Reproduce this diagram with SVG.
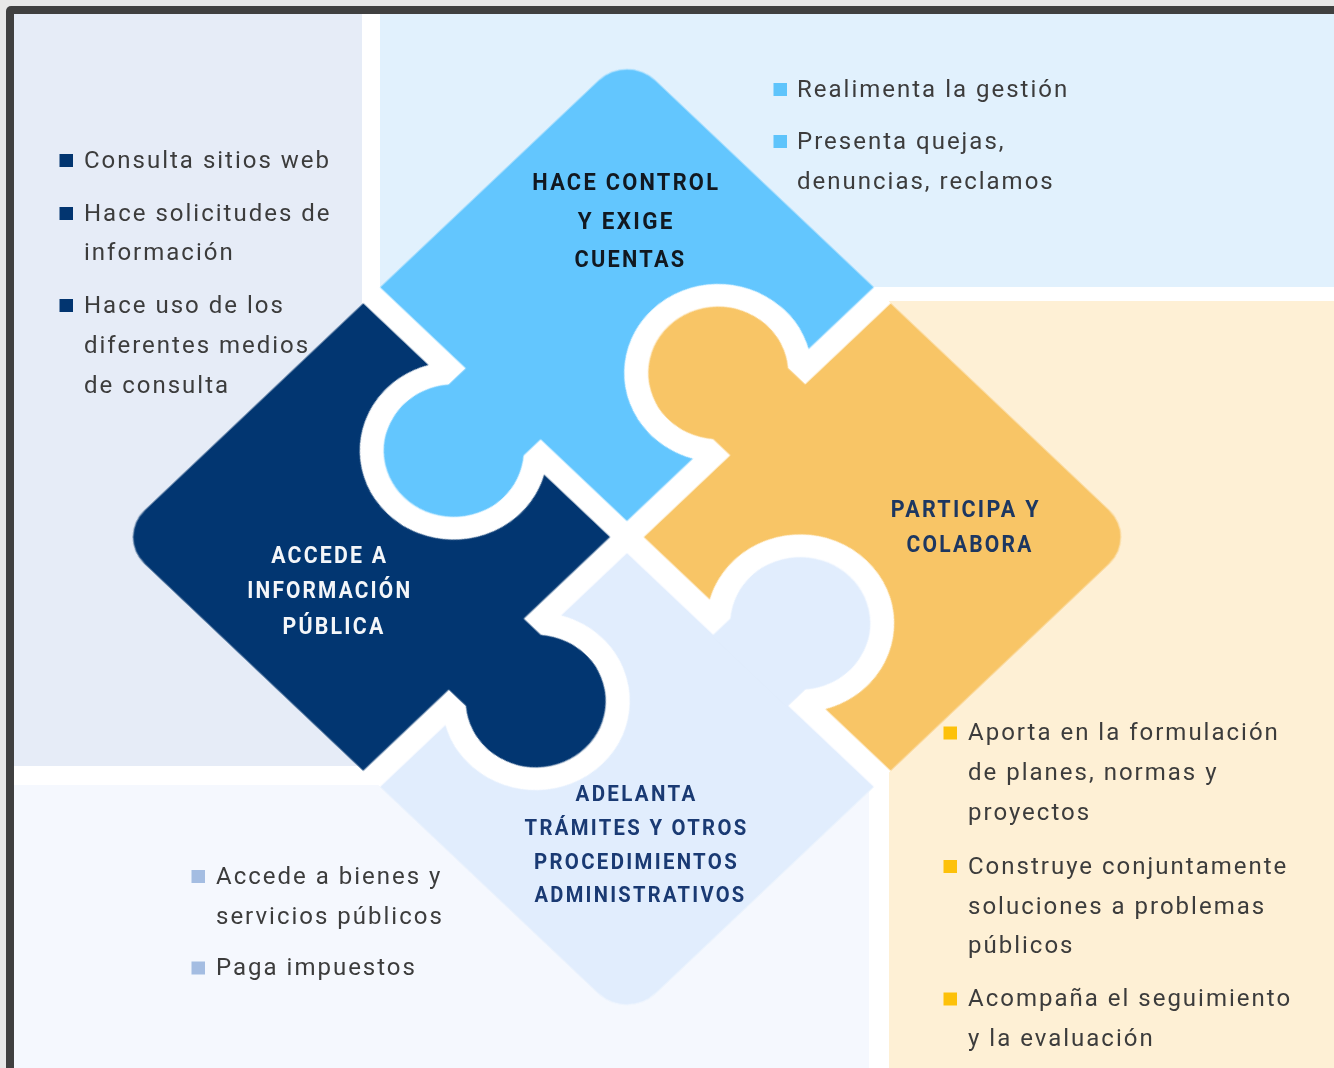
<svg xmlns="http://www.w3.org/2000/svg" xmlns:xlink="http://www.w3.org/1999/xlink" width="1334" height="1068" viewBox="0 0 1334 1068">
  <style>
    .item { font-family: Roboto, "Noto Sans", "Liberation Sans", sans-serif; font-size: 24px; letter-spacing: 2px; fill: #3c3c3c; }
    .lbl { font-family: Roboto, "Noto Sans", "Liberation Sans", sans-serif; font-weight: 700; font-size: 24px; letter-spacing: 2.5px; text-anchor: middle; }
    .lbl-sm { font-size: 22px; }
  </style>
  <defs>
    <!-- one puzzle tab: base on x=0, head circle r=70 centred 70 out -->
    <path id="tabShape" d="M -2,-53 L 24.3,-53 A 70 70 0 1 1 24.3,53 L -2,53 Z"/>
    <use id="tabBlue" xlink:href="#tabShape" transform="translate(-187,-12) rotate(90)"/>
    <use id="tabNavy" xlink:href="#tabShape" transform="translate(-12,187)"/>
    <use id="tabPale" xlink:href="#tabShape" transform="translate(187,12) rotate(-90)"/>
    <use id="tabOrange" xlink:href="#tabShape" transform="translate(12,-187) rotate(180)"/>

    <!-- each piece loses the neighbour's tab grown by the gap width -->
    <mask id="mBlue" maskUnits="userSpaceOnUse" x="-420" y="-420" width="840" height="840">
      <rect x="-420" y="-420" width="840" height="840" fill="#fff"/>
      <use xlink:href="#tabOrange" fill="#000" stroke="#000" stroke-width="48" stroke-linejoin="round"/>
    </mask>
    <mask id="mNavy" maskUnits="userSpaceOnUse" x="-420" y="-420" width="840" height="840">
      <rect x="-420" y="-420" width="840" height="840" fill="#fff"/>
      <use xlink:href="#tabBlue" fill="#000" stroke="#000" stroke-width="48" stroke-linejoin="round"/>
    </mask>
    <mask id="mPale" maskUnits="userSpaceOnUse" x="-420" y="-420" width="840" height="840">
      <rect x="-420" y="-420" width="840" height="840" fill="#fff"/>
      <use xlink:href="#tabNavy" fill="#000" stroke="#000" stroke-width="48" stroke-linejoin="round"/>
    </mask>
    <mask id="mOrange" maskUnits="userSpaceOnUse" x="-420" y="-420" width="840" height="840">
      <rect x="-420" y="-420" width="840" height="840" fill="#fff"/>
      <use xlink:href="#tabPale" fill="#000" stroke="#000" stroke-width="48" stroke-linejoin="round"/>
    </mask>
  </defs>

  <!-- frame and quadrant panels -->
  <rect width="1334" height="1068" fill="#e8e8e8"/>
  <rect x="6" y="6" width="1340" height="1080" rx="5" fill="#404040"/>
  <rect x="14" y="14" width="1330" height="1060" fill="#ffffff"/>
  <rect x="14" y="14" width="348" height="752" fill="#e6ecf7"/>
  <rect x="380" y="14" width="954" height="273" fill="#e1f1fd"/>
  <rect x="889" y="301" width="445" height="767" fill="#fef0d5"/>
  <rect x="14" y="785" width="855" height="283" fill="#f5f8fe"/>

  <!-- puzzle backing: shows white in the gaps -->
  <g transform="translate(627,537) scale(1,0.947) rotate(45)">
    <rect x="-361" y="-361" width="722" height="722" rx="40" fill="#ffffff"/>
  </g>

  <g id="node-control">
    <g transform="translate(627,537) scale(1,0.947) rotate(45)">
      <g mask="url(#mBlue)" fill="#63c6fe">
        <path d="M -12,-12 L -361,-12 L -361,-321 A 40 40 0 0 1 -321,-361 L -12,-361 Z"/>
        <use xlink:href="#tabBlue"/>
      </g>
    </g>
    <text class="lbl" fill="#111820">
      <tspan x="630.5" y="190" textLength="188" lengthAdjust="spacingAndGlyphs">HACE CONTROL</tspan>
      <tspan x="630.5" y="228.5" textLength="97" lengthAdjust="spacingAndGlyphs">Y EXIGE</tspan>
      <tspan x="630.5" y="266.5" textLength="112" lengthAdjust="spacingAndGlyphs">CUENTAS</tspan>
    </text>
  </g>

  <g id="node-acceso">
    <g transform="translate(627,537) scale(1,0.947) rotate(45)">
      <g mask="url(#mNavy)" fill="#023671">
        <path d="M -12,12 L -12,361 L -321,361 A 40 40 0 0 1 -361,321 L -361,12 Z"/>
        <use xlink:href="#tabNavy"/>
      </g>
    </g>
    <text class="lbl" fill="#f4f6f9">
      <tspan x="334" y="562.5" textLength="117" lengthAdjust="spacingAndGlyphs">ACCEDE A</tspan>
      <tspan x="334" y="597.5" textLength="165" lengthAdjust="spacingAndGlyphs">INFORMACIÓN</tspan>
      <tspan x="334" y="633.5" textLength="103" lengthAdjust="spacingAndGlyphs">PÚBLICA</tspan>
    </text>
  </g>

  <g id="node-participa">
    <g transform="translate(627,537) scale(1,0.947) rotate(45)">
      <g mask="url(#mOrange)" fill="#f8c566">
        <path d="M 12,-12 L 12,-361 L 321,-361 A 40 40 0 0 1 361,-321 L 361,-12 Z"/>
        <use xlink:href="#tabOrange"/>
      </g>
    </g>
    <text class="lbl" fill="#1d3761">
      <tspan x="970" y="517" textLength="150" lengthAdjust="spacingAndGlyphs">PARTICIPA Y</tspan>
      <tspan x="970" y="552" textLength="127" lengthAdjust="spacingAndGlyphs">COLABORA</tspan>
    </text>
  </g>

  <g id="node-tramites">
    <g transform="translate(627,537) scale(1,0.947) rotate(45)">
      <g mask="url(#mPale)" fill="#e1edfd">
        <path d="M 12,12 L 361,12 L 361,321 A 40 40 0 0 1 321,361 L 12,361 Z"/>
        <use xlink:href="#tabPale"/>
      </g>
    </g>
    <text class="lbl lbl-sm" fill="#1a3a73">
      <tspan x="640.5" y="801" textLength="122" lengthAdjust="spacingAndGlyphs">ADELANTA</tspan>
      <tspan x="640.5" y="835" textLength="224" lengthAdjust="spacingAndGlyphs">TRÁMITES Y OTROS</tspan>
      <tspan x="640.5" y="869" textLength="205" lengthAdjust="spacingAndGlyphs">PROCEDIMIENTOS</tspan>
      <tspan x="640.5" y="902" textLength="212" lengthAdjust="spacingAndGlyphs">ADMINISTRATIVOS</tspan>
    </text>
  </g>

  <!-- bullet lists -->
  <g id="list-acceso">
    <g fill="#023570">
      <rect x="59.5" y="154" width="13.5" height="13"/>
      <rect x="59.5" y="207" width="13.5" height="13"/>
      <rect x="59.5" y="299" width="13.5" height="13"/>
    </g>
    <text class="item">
      <tspan x="84" y="167.5">Consulta sitios web</tspan>
      <tspan x="84" y="220.5">Hace solicitudes de</tspan>
      <tspan x="84" y="260">información</tspan>
      <tspan x="84" y="312.5">Hace uso de los</tspan>
      <tspan x="84" y="352.5">diferentes medios</tspan>
      <tspan x="84" y="393">de consulta</tspan>
    </text>
  </g>

  <g id="list-control">
    <g fill="#5ec4fb">
      <rect x="773.5" y="83" width="13.5" height="13"/>
      <rect x="773.5" y="135" width="13.5" height="13"/>
    </g>
    <text class="item">
      <tspan x="797" y="96.5">Realimenta la gestión</tspan>
      <tspan x="797" y="148.5">Presenta quejas,</tspan>
      <tspan x="797" y="188.5">denuncias, reclamos</tspan>
    </text>
  </g>

  <g id="list-tramites">
    <g fill="#a4bde2">
      <rect x="191.5" y="870" width="13.5" height="13"/>
      <rect x="191.5" y="961.5" width="13.5" height="13"/>
    </g>
    <text class="item">
      <tspan x="216" y="883.5">Accede a bienes y</tspan>
      <tspan x="216" y="923.5">servicios públicos</tspan>
      <tspan x="216" y="975">Paga impuestos</tspan>
    </text>
  </g>

  <g id="list-participa">
    <g fill="#fdc10a">
      <rect x="943.5" y="726.5" width="13.5" height="13"/>
      <rect x="943.5" y="860" width="13.5" height="13"/>
      <rect x="943.5" y="992.5" width="13.5" height="13"/>
    </g>
    <text class="item">
      <tspan x="968" y="740">Aporta en la formulación</tspan>
      <tspan x="968" y="780">de planes, normas y</tspan>
      <tspan x="968" y="820">proyectos</tspan>
      <tspan x="968" y="873.5">Construye conjuntamente</tspan>
      <tspan x="968" y="913.5">soluciones a problemas</tspan>
      <tspan x="968" y="953">públicos</tspan>
      <tspan x="968" y="1006">Acompaña el seguimiento</tspan>
      <tspan x="968" y="1046">y la evaluación</tspan>
    </text>
  </g>
</svg>
